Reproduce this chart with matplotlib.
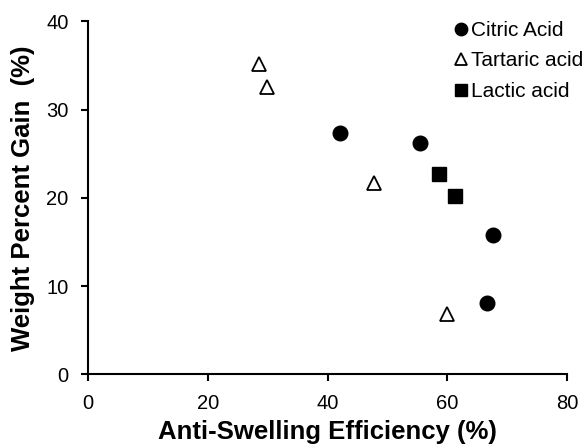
import matplotlib.pyplot as plt

plt.rcParams["font.family"] = ["Liberation Sans", "DejaVu Sans"]

citric_x = [42.0, 55.4, 67.6, 66.6]
citric_y = [27.3, 26.2, 15.8, 8.1]
tartaric_x = [28.6, 29.8, 47.8, 59.9]
tartaric_y = [35.2, 32.5, 21.7, 6.8]
lactic_x = [58.6, 61.3]
lactic_y = [22.7, 20.2]

fig = plt.figure(figsize=(5.87, 4.45), dpi=100)
ax = fig.add_axes([88 / 587, 1 - 374.3 / 445, (567.3 - 88) / 587, (374.3 - 21.3) / 445])

ax.plot(citric_x, citric_y, "o", color="black", markersize=10.5, label="Citric Acid", clip_on=False)
ax.plot(tartaric_x, tartaric_y, "^", markerfacecolor="white", markeredgecolor="black",
        markeredgewidth=1.3, markersize=9.5, label="Tartaric acid", clip_on=False)
ax.plot(lactic_x, lactic_y, "s", color="black", markersize=10, label="Lactic acid", clip_on=False)

ax.set_xlim(0, 80)
ax.set_ylim(0, 40)
ax.set_xticks([0, 20, 40, 60, 80])
ax.set_yticks([0, 10, 20, 30, 40])
for s in ["top", "right"]:
    ax.spines[s].set_visible(False)
for s in ["left", "bottom"]:
    ax.spines[s].set_linewidth(1.5)
ax.tick_params(direction="out", length=5, width=1.5, labelsize=14.5)
ax.tick_params(axis="x", pad=9)
ax.tick_params(axis="y", pad=9)

ax.set_xlabel("Anti-Swelling Efficiency (%)", fontsize=18.5, fontweight="bold", labelpad=5)
ax.set_ylabel("Weight Percent Gain  (%)", fontsize=18.5, fontweight="bold", labelpad=8)

leg = ax.legend(loc="upper right", bbox_to_anchor=(1.05, 1.025), frameon=False, fontsize=15,
                handlelength=0.6, handletextpad=0.15, labelspacing=0.56, markerscale=0.85,
                borderaxespad=0)

fig.savefig("out.png", dpi=100)
